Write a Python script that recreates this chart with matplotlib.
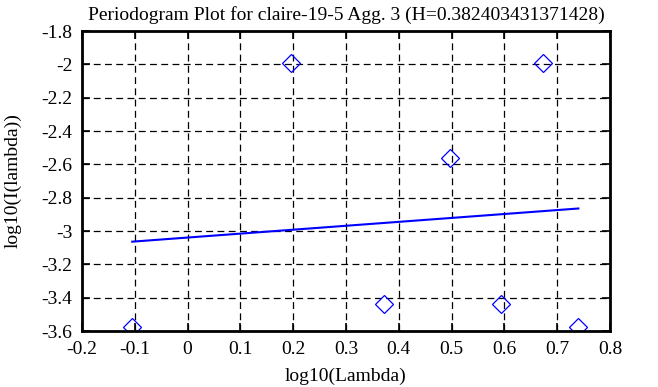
import matplotlib
matplotlib.use("Agg")
import matplotlib.pyplot as plt

# periodogram points (log10 frequency vs log10 intensity)
log_lambda = [-0.1049, 0.1961, 0.3722, 0.4971, 0.5940, 0.6732, 0.7401]
log_I = [-3.578, -1.994, -3.436, -2.560, -3.436, -1.994, -3.578]

# fitted regression line end points
fit_x = [-0.1049, 0.7401]
fit_y = [-3.064, -2.865]

x_ticks = [-0.2, -0.1, 0, 0.1, 0.2, 0.3, 0.4, 0.5, 0.6, 0.7, 0.8]
y_ticks = [-3.6, -3.4, -3.2, -3, -2.8, -2.6, -2.4, -2.2, -2, -1.8]

plt.rcParams["font.family"] = ["Liberation Serif", "DejaVu Serif"]
plt.rcParams["font.size"] = 14

fig = plt.figure(figsize=(6.58, 3.87), dpi=100)
ax = fig.add_axes([82 / 658, 1 - 331 / 387, 528 / 658, 300 / 387])

ax.plot(fit_x, fit_y, color="blue", lw=1.5)
ax.plot(log_lambda, log_I, ls="none", marker="D", ms=9, mfc="none",
        mec="blue", mew=0.9)

ax.set_xlim(-0.2, 0.8)
ax.set_ylim(-3.6, -1.8)
ax.set_xticks(x_ticks)
ax.set_yticks(y_ticks)
ax.set_xticklabels(["%g" % v for v in x_ticks])
ax.set_yticklabels(["%g" % v for v in y_ticks])
ax.grid(True, color="black", ls=(0, (5.5, 3.5)), lw=0.9)
ax.tick_params(direction="in", length=6, width=1.2, top=True, right=True,
               labelsize=14, pad=7)
for s in ax.spines.values():
    s.set_linewidth(2)

ax.set_title("Periodogram Plot for claire-19-5 Agg. 3 (H=0.382403431371428)",
             fontsize=14, pad=8)
ax.set_xlabel("log10(Lambda)", fontsize=14, labelpad=7)
ax.set_ylabel("log10(I(lambda))", fontsize=14, labelpad=14)

fig.savefig("out.png", dpi=100)
